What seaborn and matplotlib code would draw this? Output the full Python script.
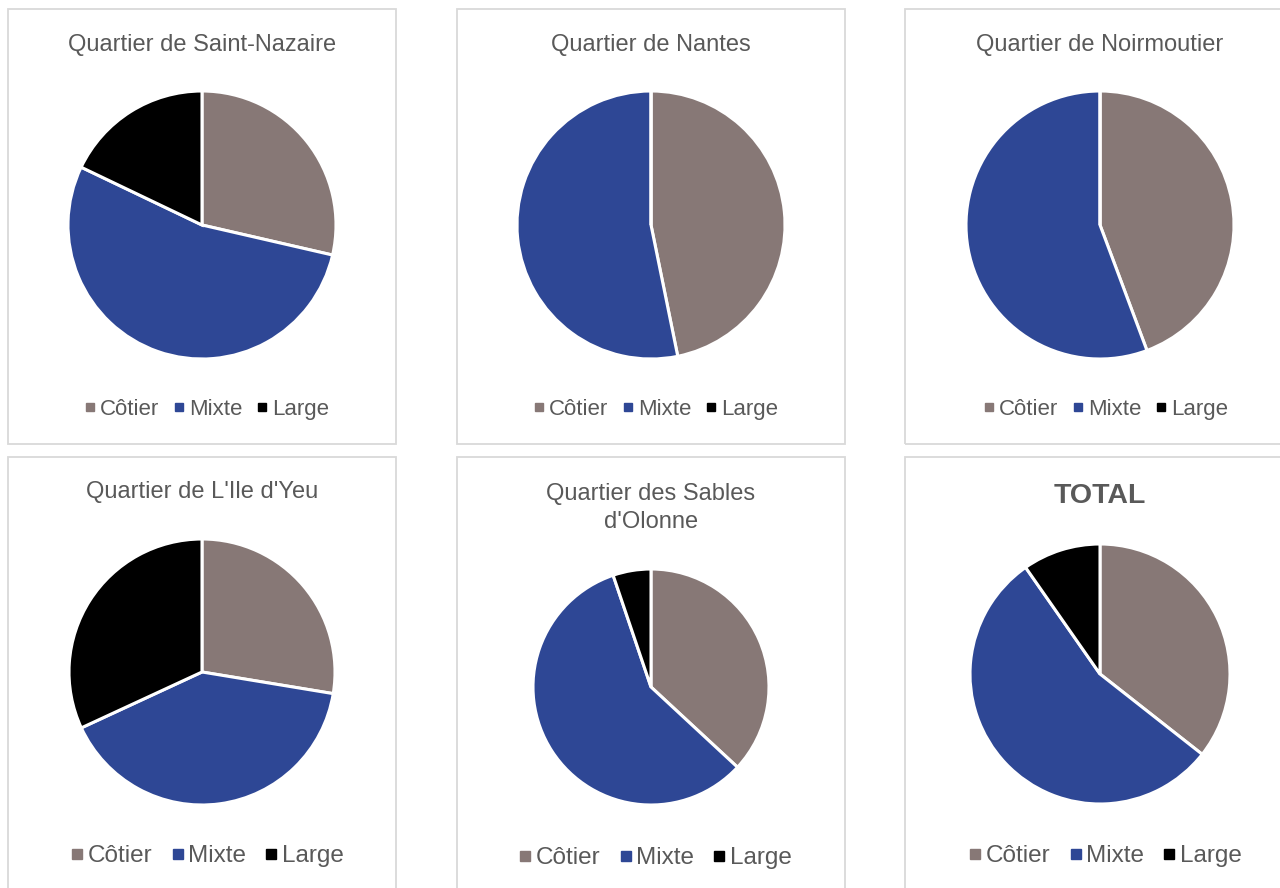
import matplotlib
matplotlib.use("Agg")
import matplotlib.pyplot as plt
from matplotlib.patches import Rectangle
from matplotlib.lines import Line2D
import seaborn as sns

sns.set_theme(style="white")
plt.rcParams["font.family"] = ["Liberation Sans", "DejaVu Sans"]

# Share of each fishing type per maritime district (percent)
categories = ["Côtier", "Mixte", "Large"]
districts = [
    "Quartier de Saint-Nazaire",
    "Quartier de Nantes",
    "Quartier de Noirmoutier",
    "Quartier de L'Ile d'Yeu",
    "Quartier des Sables\nd'Olonne",
    "TOTAL",
]
saint_nazaire = [28.6, 53.5, 17.9]
nantes = [46.8, 53.2, 0.0]
noirmoutier = [44.3, 55.7, 0.0]
ile_yeu = [27.6, 40.5, 31.9]
sables = [36.9, 57.9, 5.2]
total = [35.6, 54.7, 9.7]
series = [saint_nazaire, nantes, noirmoutier, ile_yeu, sables, total]

colors = ["#877876", "#2e4795", "#000000"]
text_color = "#595959"

W, H = 1280, 888
fig = plt.figure(figsize=(W / 100, H / 100), dpi=100)
fig.patch.set_facecolor("white")

# panel frames (left, top, right, bottom) in pixels
frames = [
    (8, 9, 396, 444), (457, 9, 845, 444), (905, 9, 1295, 444),
    (8, 457, 396, 900), (457, 457, 845, 900), (905, 457, 1295, 900),
]
# pie centre and radius in pixels
pies = [
    (202, 225, 134), (651, 225, 134), (1100, 225, 134),
    (202, 672, 133), (651, 687, 118), (1100, 674, 130),
]
title_y = [45, 45, 45, 492, 508, 496]
legend_cx = [206, 655, 1105, 207, 655, 1105]
legend_y = [409, 409, 409, 856, 858, 856]

for i, (name, values) in enumerate(zip(districts, series)):
    l, t, r, b = frames[i]
    fig.patches.append(Rectangle((l / W, 1 - b / H), (r - l) / W, (b - t) / H,
                                 transform=fig.transFigure, fill=False,
                                 edgecolor="#d9d9d9", linewidth=1.3, zorder=0))
    cx, cy, rad = pies[i]
    ax = fig.add_axes([(cx - rad) / W, 1 - (cy + rad) / H, 2 * rad / W, 2 * rad / H])
    ax.pie(values, colors=colors, startangle=90, counterclock=False,
           wedgeprops=dict(edgecolor="white", linewidth=2.2))
    ax.set_xlim(-1, 1)
    ax.set_ylim(-1, 1)
    ax.set_aspect("equal")
    ax.axis("off")

    bold = name == "TOTAL"
    tx = (l + r) / 2 if r < W else cx
    fig.text(tx / W, 1 - title_y[i] / H, name, ha="center", va="center",
             fontsize=20.5 if bold else 17, fontweight="bold" if bold else "normal",
             color=text_color, linespacing=1.35)

    top_row = i < 3
    handles = [Line2D([], [], marker="s", linestyle="none", color=c,
                      markersize=5.5 if top_row else 6.5) for c in colors]
    fig.legend(handles, categories, loc="center",
               bbox_to_anchor=(legend_cx[i] / W, 1 - legend_y[i] / H),
               ncol=3, frameon=False, handlelength=0.6, handletextpad=0.15,
               columnspacing=0.6 if top_row else 0.72, borderpad=0,
               prop={"size": 16 if top_row else 17.5},
               labelcolor=text_color)

fig.savefig("out.png", dpi=100, facecolor="white")
